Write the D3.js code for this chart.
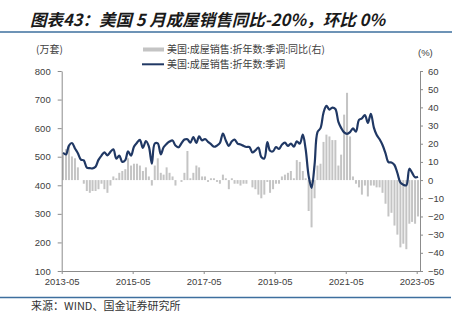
<!DOCTYPE html>
<html>
<head>
<meta charset="utf-8">
<script src="https://cdn.jsdelivr.net/npm/d3@7"></script>
<style>
  html, body { margin: 0; padding: 0; background: #fff; }
  svg { display: block; }
</style>
</head>
<body>
<svg id="chart" width="463" height="326"></svg>
<script>
// ---------- data ----------
const startMonth = "2013-05";
const monthCount = 121;
// 美国:成屋销售:折年数:季调 (万套)
const sales = [
  514, 508, 539, 548, 529, 512, 490, 487,
  462, 460, 459, 465, 489, 504, 515, 505, 517, 526, 493, 504,
  482, 488, 519, 504, 535, 549, 559, 531, 555, 536, 476, 546,
  547, 508, 533, 545, 553, 557, 539, 533, 547, 560, 561, 549,
  569, 548, 571, 557, 562, 552, 544, 535, 539, 548, 581, 557,
  538, 554, 560, 546, 543, 538, 534, 534, 515, 522, 532, 499,
  494, 551, 521, 519, 534, 527, 542, 549, 538, 546, 535, 554,
  546, 577, 527, 433, 391, 472, 586, 600, 654, 678, 665, 672,
  667, 622, 601, 585, 580, 586, 599, 588, 629, 634, 646, 618,
  650, 602, 577, 561, 541, 512, 481, 480, 471, 443, 409, 402,
  400, 458, 444, 428, 430
];
// 美国:成屋销售:折年数:季调:同比 (%)
const yoy = [
  14, 17, 19, 13, 12, 7, 0, -2,
  -6, -7, -6, -6, -5, -2, -5, -7, -3, 2, 1, 4,
  5, 6, 12, 8, 9, 9, 8, 5, 7, 2, -3, 8,
  12, 4, 3, 7, 4, 2, -3, 0, -1, 4, 16, 1,
  4, 8, 7, 2, 2, -1, 1, 1, -1, -2, 3, 1,
  -5, 1, -2, -2, -3, -2, -2, 0, -4, -5, -8, -10,
  -8, -1, -7, -5, -2, -2, 2, 3, 4, 5, 1, 11,
  10, 5, 1, -17, -26, -10, 8, 9, 21, 25, 24, 22,
  22, 8, 14, 36, 48, 24, 2, -2, -4, -8, -3, -9,
  -3, -3, -4, -4, -7, -13, -20, -18, -25, -30, -37, -35,
  -38, -24, -23, -24, -20
];
const xTickLabels = ["2013-05", "2015-05", "2017-05", "2019-05", "2021-05", "2023-05"];
const leftTicks = [100, 200, 300, 400, 500, 600, 700, 800];
const rightTicks = [-50, -40, -30, -20, -10, 0, 10, 20, 30, 40, 50, 60];
const titleText = "图表43：美国 5 月成屋销售同比-20%，环比 0%";
const legendBar = "美国:成屋销售:折年数:季调:同比(右)";
const legendLine = "美国:成屋销售:折年数:季调";
const sourceText = "来源：WIND、国金证券研究所";

// ---------- build ----------
const parse = d3.timeParse("%Y-%m");
const d0 = parse(startMonth);
const dates = d3.range(monthCount).map(i => d3.timeMonth.offset(d0, i));
const rows = dates.map((d, i) => ({ date: d, sales: sales[i], yoy: yoy[i] }));

const svg = d3.select("#chart");
const L = 61.7, R = 420, T = 71, B = 271;

const x = d3.scaleTime()
  .domain([d0, d3.timeDay.offset(d3.timeMonth.offset(d0, 121), 3)])
  .range([L, R]);
const yL = d3.scaleLinear().domain([100, 800]).range([B, T]);
const yR = d3.scaleLinear().domain([-50, 60]).range([B, T]);

const cjk = "'Noto Sans CJK SC', 'Noto Sans', sans-serif";
const latin = "'Liberation Sans', Arial, sans-serif";

// title
svg.append("text")
  .attr("x", 30).attr("y", 26)
  .attr("font-family", cjk)
  .attr("font-size", 16.5)
  .attr("font-weight", "bold")
  .attr("font-style", "italic")
  .attr("fill", "#1a1a1a")
  .text(titleText);

svg.append("line").attr("x1", 0).attr("x2", 452).attr("y1", 32).attr("y2", 32)
  .attr("stroke", "#3d6f9e").attr("stroke-width", 1.5);
svg.append("line").attr("x1", 0).attr("x2", 451).attr("y1", 297.5).attr("y2", 297.5)
  .attr("stroke", "#3d6f9e").attr("stroke-width", 1.5);

// source
svg.append("text")
  .attr("x", 31).attr("y", 310)
  .attr("font-family", cjk)
  .attr("font-size", 11)
  .attr("fill", "#333")
  .text(sourceText);

// unit labels
svg.append("text").attr("x", 36).attr("y", 53)
  .attr("font-family", cjk).attr("font-size", 10).attr("fill", "#404040").text("(万套)");
svg.append("text").attr("x", 418).attr("y", 56)
  .attr("font-family", latin).attr("font-size", 9.5).attr("fill", "#404040").text("(%)");

// legend
svg.append("rect").attr("x", 143).attr("y", 47.5).attr("width", 21).attr("height", 4)
  .attr("fill", "#c4c4c4");
svg.append("text").attr("x", 167).attr("y", 53)
  .attr("font-family", cjk).attr("font-size", 10).attr("fill", "#404040").text(legendBar);
svg.append("line").attr("x1", 142).attr("x2", 164).attr("y1", 64.3).attr("y2", 64.3)
  .attr("stroke", "#203864").attr("stroke-width", 2);
svg.append("text").attr("x", 167).attr("y", 67.5)
  .attr("font-family", cjk).attr("font-size", 10).attr("fill", "#404040").text(legendLine);

// bars
svg.append("g").selectAll("rect").data(rows).join("rect")
  .attr("x", d => x(d.date) + 0.3)
  .attr("width", 2)
  .attr("y", d => Math.min(yR(d.yoy), yR(0)))
  .attr("height", d => Math.abs(yR(d.yoy) - yR(0)))
  .attr("fill", "#c4c4c4");

// line
const line = d3.line()
  .x(d => x(d.date) + 1.3)
  .y(d => yL(d.sales))
  .curve(d3.curveCatmullRom.alpha(0.5));
svg.append("path").datum(rows)
  .attr("d", line)
  .attr("fill", "none")
  .attr("stroke", "#203864")
  .attr("stroke-width", 2.2)
  .attr("stroke-linejoin", "round");

// axes
function styleAxis(g) {
  g.selectAll("path.domain").attr("stroke", "#8c8c8c");
  g.selectAll(".tick line").attr("stroke", "#8c8c8c");
  g.selectAll("text").attr("font-family", latin).attr("font-size", 9.5).attr("fill", "#404040");
}
svg.append("g").attr("transform", `translate(${L},0)`)
  .call(d3.axisLeft(yL).tickValues(leftTicks).tickSize(4).tickSizeOuter(0).tickPadding(7))
  .call(styleAxis);
svg.append("g").attr("transform", `translate(${R},0)`)
  .call(d3.axisRight(yR).tickValues(rightTicks).tickSize(3).tickSizeOuter(0).tickPadding(5))
  .call(styleAxis);
const xTickDates = xTickLabels.map(s => parse(s));
svg.append("g").attr("transform", `translate(0,${B})`)
  .call(d3.axisBottom(x).tickValues(xTickDates).tickFormat(d3.timeFormat("%Y-%m")).tickSize(3).tickSizeOuter(0).tickPadding(4))
  .call(styleAxis);
</script>
</body>
</html>
